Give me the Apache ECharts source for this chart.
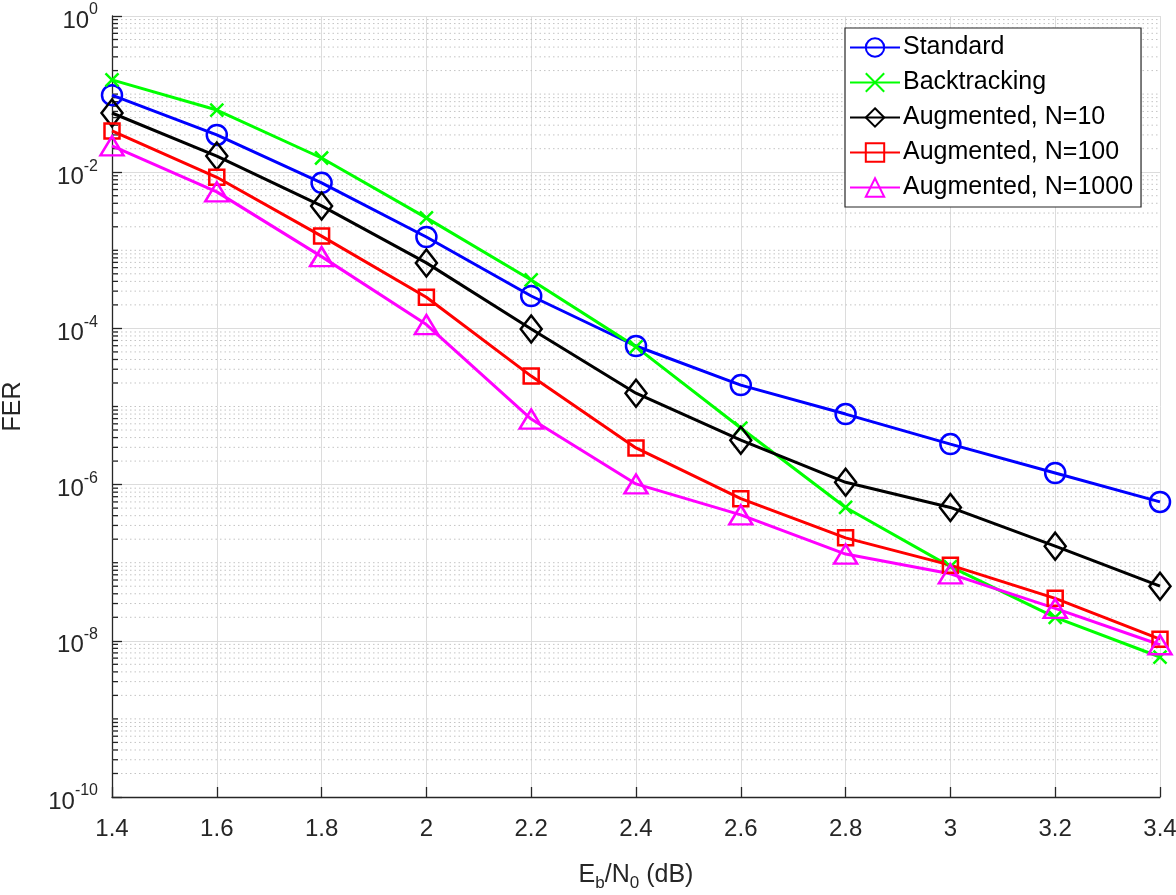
<!DOCTYPE html>
<html>
<head>
<meta charset="utf-8">
<style>html,body{margin:0;padding:0;background:#fff;}#chart{width:1176px;height:895px;}</style>
<script src="https://cdn.jsdelivr.net/npm/echarts@6/dist/echarts.min.js"></script>
</head>
<body>
<div id="chart"></div>
<script>
const ebn0 = [1.4, 1.6, 1.8, 2.0, 2.2, 2.4, 2.6, 2.8, 3.0, 3.2, 3.4];
const standard     = [9.7e-2, 3.0e-2, 7.3e-3, 1.48e-3, 2.6e-4, 5.95e-5, 1.88e-5, 8.0e-6, 3.3e-6, 1.41e-6, 6.0e-7];
const backtracking = [1.52e-1, 6.25e-2, 1.52e-2, 2.6e-3, 4.17e-4, 5.8e-5, 5.3e-6, 5.1e-7, 8.9e-8, 2.0e-8, 6.2e-9];
const aug10        = [5.73e-2, 1.61e-2, 3.7e-3, 6.9e-4, 9.8e-5, 1.48e-5, 3.7e-6, 1.07e-6, 5.1e-7, 1.63e-7, 5.0e-8];
const aug100       = [3.37e-2, 8.6e-3, 1.52e-3, 2.5e-4, 2.45e-5, 2.95e-6, 6.6e-7, 2.08e-7, 9.3e-8, 3.5e-8, 1.05e-8];
const aug1000      = [2.18e-2, 5.6e-3, 8.3e-4, 1.12e-4, 6.9e-6, 1.02e-6, 4.1e-7, 1.29e-7, 7.2e-8, 2.6e-8, 8.9e-9];
const seriesNames  = ['Standard', 'Backtracking', 'Augmented, N=10', 'Augmented, N=100', 'Augmented, N=1000'];
const xTicks = [1.4, 3.4, 0.2];          // min, max, step
const yDecades = [-10, 0];               // exponent range

const FONT = '"Liberation Sans", Arial, Helvetica, sans-serif';
const TXT = '#262626';

// minor log gridlines (k * 10^e), excluding the labelled even decades
const minorVals = [];
for (let e = yDecades[0]; e < yDecades[1]; e++) {
  for (let k = 1; k <= 9; k++) {
    if (k === 1 && e % 2 === 0) continue;
    minorVals.push(k * Math.pow(10, e));
  }
}

function pairs(arr) { return ebn0.map((x, i) => [x, arr[i]]); }

const XPATH = 'path://M0,0L10,10M10,0L0,10';

function lineSeries(name, data, color, symbol, size, bw) {
  return {
    name: name, type: 'line', data: pairs(data),
    symbol: symbol, symbolSize: size, showAllSymbol: true,
    lineStyle: { color: color, width: 3 },
    itemStyle: { color: 'rgba(0,0,0,0)', borderColor: color, borderWidth: bw },
    emphasis: { disabled: true },
    z: 3
  };
}

const chart = echarts.init(document.getElementById('chart'), null, { renderer: 'canvas' });
chart.setOption({
  animation: false,
  backgroundColor: '#fff',
  grid: { left: 112, right: 16, top: 16, bottom: 98, containLabel: false, outerBoundsMode: 'none' },
  xAxis: {
    type: 'value', min: xTicks[0], max: xTicks[1], interval: xTicks[2],
    name: '{n|E}{sub|b}{n|/N}{sub|0}{n| (dB)}',
    nameLocation: 'middle', nameGap: 62,
    nameTextStyle: {
      fontFamily: FONT, color: TXT,
      rich: {
        n: { fontSize: 25, fontFamily: FONT, color: TXT },
        sub: { fontSize: 17, fontFamily: FONT, color: TXT, padding: [16, 0, 0, 0] }
      }
    },
    axisLine: { show: true, onZero: false, lineStyle: { color: '#262626', width: 1.3 } },
    axisTick: { show: true, inside: true, length: 10, lineStyle: { color: '#262626', width: 1.3 } },
    axisLabel: {
      margin: 20, fontSize: 24, fontFamily: FONT, color: TXT,
      formatter: v => String(parseFloat(v.toFixed(1)))
    },
    splitLine: { show: true, lineStyle: { color: '#dcdcdc', width: 1 } }
  },
  yAxis: {
    type: 'log', logBase: 10,
    min: Math.pow(10, yDecades[0]), max: Math.pow(10, yDecades[1]), interval: 2,
    name: 'FER', nameLocation: 'middle', nameGap: 86,
    nameTextStyle: { fontSize: 25, fontFamily: FONT, color: TXT },
    axisLine: { show: true, lineStyle: { color: '#262626', width: 1.3 } },
    axisTick: { show: true, inside: true, length: 10, lineStyle: { color: '#262626', width: 1.3 } },
    axisLabel: {
      margin: 14, fontFamily: FONT, color: TXT,
      formatter: v => {
        const e = Math.round(Math.log10(v));
        return '{b|10}{s|' + (e === 0 ? '0' : '-' + Math.abs(e)) + '}';
      },
      rich: {
        b: { fontSize: 24, fontFamily: FONT, color: TXT, padding: [10, 0, 0, 0] },
        s: { fontSize: 16, fontFamily: FONT, color: TXT, padding: [0, 0, 12, 0] }
      }
    },
    splitLine: { show: true, lineStyle: { color: '#dcdcdc', width: 1 } }
  },
  legend: {
    show: true, orient: 'vertical', left: 845, top: 28,
    data: seriesNames,
    backgroundColor: '#fff', borderColor: '#262626', borderWidth: 1.2,
    padding: [7, 8, 7, 4], itemGap: 10, itemWidth: 50, itemHeight: 23,
    textStyle: { fontSize: 25, fontFamily: FONT, color: '#000', padding: [0, 0, 0, -2] },
    selectedMode: false
  },
  series: [
    {
      type: 'custom', name: 'minorgrid', silent: true, z: 1,
      coordinateSystem: 'cartesian2d',
      data: minorVals.map(v => [xTicks[0], v]),
      encode: { x: 0, y: 1 },
      renderItem: function (params, api) {
        const y = api.value(1);
        const p1 = api.coord([xTicks[0], y]);
        const p2 = api.coord([xTicks[1], y]);
        return {
          type: 'group',
          children: [
            { type: 'line', shape: { x1: p1[0], y1: p1[1], x2: p2[0], y2: p2[1] },
              style: { stroke: '#c4c4c4', lineWidth: 1, lineDash: [1.5, 3] } },
            { type: 'line', shape: { x1: p1[0], y1: p1[1], x2: p1[0] + 6, y2: p1[1] },
              style: { stroke: '#262626', lineWidth: 1.3 } }
          ]
        };
      }
    },
    lineSeries(seriesNames[0], standard, '#0000ff', 'circle', 20, 2.5),
    lineSeries(seriesNames[1], backtracking, '#00ff00', XPATH, 13, 2.5),
    lineSeries(seriesNames[2], aug10, '#000000', 'diamond', [21, 27], 2.5),
    lineSeries(seriesNames[3], aug100, '#ff0000', 'rect', 15, 2.5),
    lineSeries(seriesNames[4], aug1000, '#ff00ff', 'triangle', [23, 19], 2.5)
  ]
});
</script>
</body>
</html>
